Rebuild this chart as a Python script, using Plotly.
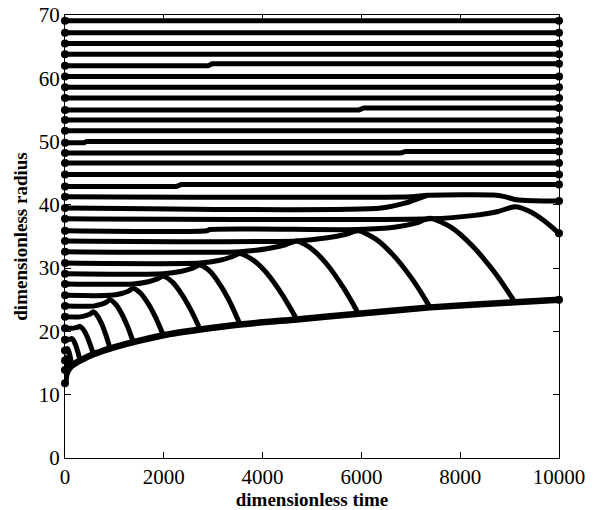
import plotly.graph_objects as go

# ---- data (dimensionless time, dimensionless radius) ----
# rings that persist over the whole run: radius at t=0, small shift (start, end time), radius after shift
ring_r0      = [69.1, 67.2, 65.5, 63.8, 62.0, 60.3, 58.6, 56.9, 55.0, 53.4, 51.7, 49.8, 48.2, 46.6, 44.8, 42.9]
ring_shift_a = [None, None, None, None, 2900, None, None, None, 5950, None, None, 380, 6800, None, None, 2250]
ring_shift_b = [None, None, None, None, 2980, None, None, None, 6050, None, None, 440, 6900, None, None, 2350]
ring_r1      = [69.1, 67.2, 65.5, 63.8, 62.3, 60.3, 58.6, 56.9, 55.3, 53.4, 51.7, 50.0, 48.45, 46.6, 44.8, 43.2]

# rings that drift outward, peak and then collapse onto the core front
traj_t = [
    [0, 8, 14, 20],
    [0, 8, 14, 20, 28, 35, 43, 47, 50],
    [0, 20, 35, 44, 50, 72, 93, 115, 127, 136],
    [0, 50, 93, 119, 136, 178, 220, 262, 287, 304],
    [0, 136, 220, 270, 304, 371, 438, 506, 546, 573],
    [0, 304, 438, 519, 573, 658, 742, 827, 877, 911],
    [0, 573, 742, 843, 911, 1029, 1147, 1265, 1336, 1383],
    [0, 911, 1147, 1289, 1383, 1535, 1687, 1838, 1929, 1990],
    [0, 1383, 1687, 1869, 1990, 2176, 2362, 2547, 2659, 2733],
    [0, 1990, 2362, 2584, 2733, 2936, 3138, 3341, 3462, 3543],
    [0, 2733, 3138, 3381, 3543, 3830, 4117, 4403, 4575, 4690],
    [0, 3543, 4117, 4461, 4690, 5002, 5314, 5625, 5812, 5937],
    [0, 4690, 5314, 5688, 5937, 6300, 6663, 7026, 7244, 7389],
    [0, 2865, 2935, 5937, 6663, 7099, 7389, 7819, 8249, 8679, 8937, 9109],
    [0, 7389, 8249, 8765, 9109, 9400, 9700, 10000],
    [0, 6400, 6900, 7150, 7330],
    [0, 7000, 7330, 8670, 8900, 9143, 9500, 10000],
]
traj_r = [
    [13.9, 14.3, 13.9, 13.0],
    [15.4, 15.4, 15.55, 15.9, 15.65, 15.2, 14.5, 14.1, 13.7],
    [17.0, 17.0, 17.1, 17.2, 17.3, 17.0, 16.4, 15.6, 15.0, 14.6],
    [18.7, 18.7, 18.76, 18.83, 18.9, 18.5, 17.75, 16.7, 15.95, 15.4],
    [20.5, 20.5, 20.6, 20.7, 20.8, 20.3, 19.35, 18.0, 17.1, 16.4],
    [22.3, 22.3, 22.55, 22.8, 23.1, 22.45, 21.2, 19.45, 18.2, 17.3],
    [24.0, 24.0, 24.3, 24.65, 25.0, 24.25, 22.8, 20.8, 19.35, 18.3],
    [25.7, 25.7, 26.0, 26.4, 26.8, 26.0, 24.35, 22.15, 20.55, 19.4],
    [27.5, 27.5, 27.85, 28.3, 28.7, 27.8, 25.9, 23.4, 21.6, 20.3],
    [29.1, 29.1, 29.5, 30.0, 30.5, 29.5, 27.4, 24.6, 22.55, 21.1],
    [30.8, 30.8, 31.25, 31.8, 32.3, 31.15, 28.9, 25.75, 23.5, 21.9],
    [32.6, 32.6, 33.1, 33.7, 34.3, 33.0, 30.5, 27.05, 24.6, 22.8],
    [34.3, 34.3, 34.8, 35.35, 35.9, 34.55, 31.9, 28.3, 25.7, 23.8],
    [35.9, 35.9, 36.1, 36.1, 36.45, 37.1, 37.9, 36.45, 33.5, 29.5, 26.65, 24.6],
    [37.8, 37.8, 38.3, 38.95, 39.7, 39.0, 37.5, 35.5],
    [39.5, 39.5, 40.3, 41.0, 41.5],
    [41.3, 41.3, 41.5, 41.55, 41.3, 40.8, 40.65, 40.6],
]

# growing core front
front_t = [0, 8, 20, 50, 136, 304, 573, 911, 1383, 1990, 2733, 3543, 4690, 5937, 7389, 9109, 10000]
front_r = [11.8, 12.3, 13.0, 13.7, 14.6, 15.4, 16.4, 17.3, 18.3, 19.4, 20.3, 21.1, 21.9, 22.8, 23.8, 24.6, 25.0]

x_ticks = [0, 2000, 4000, 6000, 8000, 10000]
y_ticks = [0, 10, 20, 30, 40, 50, 60, 70]

T_END = 10000

fig = go.Figure()
dot_x, dot_y = [], []

for r0, ta, tb, r1 in zip(ring_r0, ring_shift_a, ring_shift_b, ring_r1):
    if ta is None:
        xs, ys = [0, T_END], [r0, r1]
    else:
        xs, ys = [0, ta, tb, T_END], [r0, r0, r1, r1]
    fig.add_trace(go.Scatter(x=xs, y=ys, mode="lines",
                             line=dict(color="black", width=5),
                             showlegend=False, hoverinfo="skip"))
    dot_x += [xs[0], xs[-1]]
    dot_y += [ys[0], ys[-1]]

for xs, ys in zip(traj_t, traj_r):
    fig.add_trace(go.Scatter(x=xs, y=ys, mode="lines",
                             line=dict(color="black", width=5, shape="spline", smoothing=0.7),
                             showlegend=False, hoverinfo="skip"))
    dot_x.append(xs[0]); dot_y.append(ys[0])
    if xs[-1] == T_END:
        dot_x.append(xs[-1]); dot_y.append(ys[-1])

fig.add_trace(go.Scatter(x=front_t, y=front_r, mode="lines",
                         line=dict(color="black", width=6.5, shape="spline", smoothing=0.6),
                         showlegend=False, hoverinfo="skip"))
dot_x += [front_t[0], front_t[-1]]
dot_y += [front_r[0], front_r[-1]]

fig.add_trace(go.Scatter(x=dot_x, y=dot_y, mode="markers",
                         marker=dict(color="black", size=8),
                         cliponaxis=False, showlegend=False, hoverinfo="skip"))

font_family = "Liberation Serif, Times New Roman, serif"
axis_common = dict(showgrid=False, zeroline=False, showline=True, linecolor="black",
                   linewidth=1, mirror="ticks", ticks="inside", ticklen=6, automargin=False,
                   ticklabeloverflow="allow",
                   tickcolor="black", tickfont=dict(family=font_family, size=21, color="black"))

fig.update_layout(
    width=597, height=510,
    margin=dict(l=65, r=38, t=15, b=52, autoexpand=False),
    paper_bgcolor="white", plot_bgcolor="white",
    xaxis=dict(range=[0, 10000], tickvals=x_ticks, ticktext=[str(v) for v in x_ticks],
               title=dict(text="<b>dimensionless time</b>", standoff=0,
                          font=dict(family=font_family, size=19, color="black")),
               **axis_common),
    yaxis=dict(range=[0, 70], tickvals=y_ticks, ticktext=[str(v) for v in y_ticks],
               title=dict(text="<b>dimensionless radius</b>", standoff=6,
                          font=dict(family=font_family, size=19, color="black")),
               **axis_common),
)

# remove the default page margin so the figure fills the window exactly
fig.write_html("out.html",
               config={"displayModeBar": False, "staticPlot": True},
               post_script="document.body.style.margin='0';document.body.style.overflow='hidden';")
